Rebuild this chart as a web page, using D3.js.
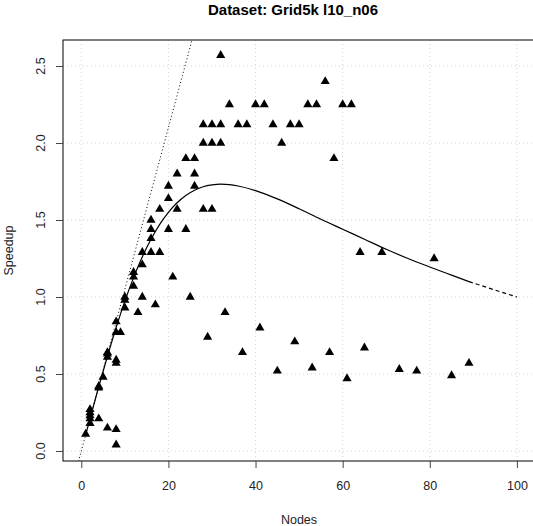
<!DOCTYPE html>
<html>
<head>
<meta charset="utf-8">
<script src="https://cdn.jsdelivr.net/npm/d3@7"></script>
<style>
  body { margin: 0; background: #fff; }
  svg { display: block; font-family: "Liberation Sans", Arial, Helvetica, sans-serif; }
</style>
</head>
<body>
<div id="chart"></div>
<script>
// measured runs (nodes, speedup)
const nodes = [1, 2, 2, 2, 2, 2, 4, 4, 4, 5, 6, 6, 6, 6, 8, 8, 8, 8, 8, 8, 9,
  10, 10, 10, 12, 12, 12, 13, 14, 14, 14, 16, 16, 16, 16, 17, 18, 18, 20, 20, 20,
  21, 22, 22, 24, 24, 25, 26, 26, 26, 28, 28, 28, 29, 30, 30, 30, 32, 32, 32, 33,
  34, 36, 37, 38, 40, 41, 42, 44, 45, 46, 48, 49, 50, 52, 53, 54, 56, 57, 58, 60,
  61, 62, 64, 65, 69, 73, 77, 81, 85, 89];
const speedup = [0.11, 0.18, 0.21, 0.23, 0.25, 0.27, 0.21, 0.41, 0.42, 0.48, 0.15, 0.61, 0.63, 0.64, 0.04, 0.14, 0.57, 0.59, 0.77, 0.84, 0.77,
  0.93, 0.98, 1.0, 1.07, 1.13, 1.16, 0.9, 1.0, 1.21, 1.29, 1.29, 1.38, 1.44, 1.5, 0.95, 1.29, 1.57, 1.44, 1.64, 1.72,
  1.13, 1.57, 1.8, 1.44, 1.9, 1.0, 1.72, 1.8, 1.9, 1.57, 2.0, 2.12, 0.74, 1.57, 2.0, 2.12, 2.0, 2.12, 2.57, 0.9,
  2.25, 2.12, 0.64, 2.12, 2.25, 0.8, 2.25, 2.12, 0.52, 2.0, 2.12, 0.71, 2.12, 2.25, 0.54, 2.25, 2.4, 0.64, 1.9, 2.25,
  0.47, 2.25, 1.29, 0.67, 1.29, 0.53, 0.52, 1.25, 0.49, 0.57];

// fitted model curve
const fitNodes = [1, 2, 4, 6, 8, 10, 12, 14, 16, 18, 20, 22, 24, 26, 28, 30, 32, 34, 36, 40,
  45, 50, 55, 60, 65, 70, 75, 80, 85, 89, 95, 100];
const fitSpeedup = [0.105, 0.21, 0.417, 0.615, 0.802, 0.973, 1.126, 1.26, 1.375, 1.472, 1.55, 1.612, 1.659, 1.693, 1.716, 1.728, 1.733, 1.73, 1.721, 1.691,
  1.637, 1.573, 1.505, 1.44, 1.375, 1.31, 1.25, 1.195, 1.142, 1.1, 1.045, 1.0];
const lastMeasured = 89;
const idealSlope = 0.105;

const xTicks = [0, 20, 40, 60, 80, 100];
const yTicks = [0, 0.5, 1, 1.5, 2, 2.5];

const width = 533, height = 526;
const plotLeft = 63, plotRight = 535.2, plotTop = 40, plotBottom = 461;

const x = d3.scaleLinear().domain([-4.2, 104.2]).range([plotLeft, plotRight]);
const y = d3.scaleLinear().domain([-0.065, 2.669]).range([plotBottom, plotTop]);

const svg = d3.select("#chart")
  .append("svg")
  .attr("width", width)
  .attr("height", height);

svg.append("clipPath")
  .attr("id", "plot-clip")
  .append("rect")
  .attr("x", plotLeft).attr("y", plotTop)
  .attr("width", plotRight - plotLeft).attr("height", plotBottom - plotTop);

// grid
const grid = svg.append("g")
  .attr("stroke", "#d3d3d3")
  .attr("stroke-dasharray", "1,3");

grid.selectAll("line.v")
  .data(xTicks)
  .join("line")
  .attr("class", "v")
  .attr("x1", d => x(d)).attr("x2", d => x(d))
  .attr("y1", plotTop).attr("y2", plotBottom);

grid.selectAll("line.h")
  .data(yTicks)
  .join("line")
  .attr("class", "h")
  .attr("x1", plotLeft).attr("x2", plotRight)
  .attr("y1", d => y(d)).attr("y2", d => y(d));

// points
svg.append("g")
  .selectAll("path")
  .data(nodes.map((n, i) => [n, speedup[i]]))
  .join("path")
  .attr("transform", d => `translate(${x(d[0])},${y(d[1])})`)
  .attr("d", d3.symbol(d3.symbolTriangle, 36))
  .attr("fill", "black");

const plot = svg.append("g").attr("clip-path", "url(#plot-clip)");

// ideal (linear) speedup
plot.append("line")
  .attr("x1", x(-4.2)).attr("y1", y(-4.2 * idealSlope))
  .attr("x2", x(30)).attr("y2", y(30 * idealSlope))
  .attr("stroke", "black")
  .attr("stroke-dasharray", "1,2.5");

const fit = fitNodes.map((n, i) => [n, fitSpeedup[i]]);
const line = d3.line()
  .x(d => x(d[0]))
  .y(d => y(d[1]))
  .curve(d3.curveMonotoneX);

plot.append("path")
  .datum(fit.filter(d => d[0] <= lastMeasured))
  .attr("fill", "none")
  .attr("stroke", "black")
  .attr("stroke-width", 1.2)
  .attr("d", line);

plot.append("path")
  .datum(fit.filter(d => d[0] >= lastMeasured))
  .attr("fill", "none")
  .attr("stroke", "black")
  .attr("stroke-width", 1.2)
  .attr("stroke-dasharray", "4,3")
  .attr("d", line);

// box
svg.append("rect")
  .attr("x", plotLeft).attr("y", plotTop)
  .attr("width", plotRight - plotLeft).attr("height", plotBottom - plotTop)
  .attr("fill", "none")
  .attr("stroke", "black");

// axes
const xAxis = svg.append("g")
  .attr("transform", `translate(0,${plotBottom})`)
  .call(d3.axisBottom(x).tickValues(xTicks).tickSize(7).tickPadding(13).tickFormat(d3.format("d")));
xAxis.select(".domain").remove();
xAxis.selectAll("text").attr("font-size", 12.5).attr("font-family", null).attr("fill", "#222");
xAxis.selectAll("line").attr("stroke", "#444");

const yAxis = svg.append("g")
  .attr("transform", `translate(${plotLeft},0)`)
  .call(d3.axisLeft(y).tickValues(yTicks).tickSize(7).tickFormat(""));
yAxis.select(".domain").remove();
yAxis.selectAll("line").attr("stroke", "#444");

svg.append("g")
  .attr("font-size", 12.5)
  .attr("fill", "#222")
  .attr("text-anchor", "middle")
  .selectAll("text")
  .data(yTicks)
  .join("text")
  .attr("transform", d => `translate(45,${y(d)}) rotate(-90)`)
  .text(d3.format(".1f"));

svg.append("text")
  .attr("x", 299).attr("y", 524)
  .attr("text-anchor", "middle")
  .attr("font-size", 12.5)
  .attr("fill", "#222")
  .text("Nodes");

svg.append("text")
  .attr("transform", `translate(13,${(plotTop + plotBottom) / 2}) rotate(-90)`)
  .attr("text-anchor", "middle")
  .attr("font-size", 12.5)
  .attr("fill", "#222")
  .text("Speedup");

svg.append("text")
  .attr("x", 293).attr("y", 15)
  .attr("text-anchor", "middle")
  .attr("font-size", 15)
  .attr("font-weight", "bold")
  .text("Dataset: Grid5k l10_n06");
</script>
</body>
</html>
